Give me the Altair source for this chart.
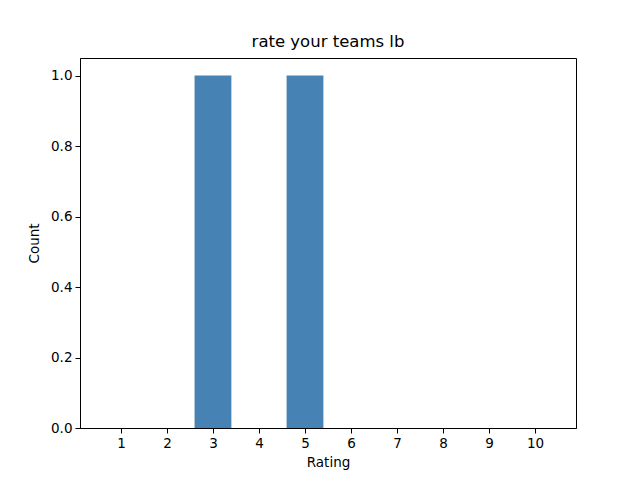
import altair as alt
import pandas as pd

ratings = [1, 2, 3, 4, 5, 6, 7, 8, 9, 10]
counts = [0, 0, 1, 0, 1, 0, 0, 0, 0, 0]
title = "rate your teams lb"

df = pd.DataFrame({"Rating": ratings, "Count": counts})
df["lo"] = df["Rating"] - 0.4
df["hi"] = df["Rating"] + 0.4

font = "DejaVu Sans"

chart = alt.Chart(df).mark_bar(color="#4682b4").encode(
    x=alt.X("lo:Q", scale=alt.Scale(domain=[0.11, 10.89], nice=False, zero=False),
            axis=alt.Axis(title="Rating", values=ratings, format="d", grid=False,
                          labelFlush=False, labelOverlap=False)),
    x2="hi:Q",
    y=alt.Y("Count:Q", scale=alt.Scale(domain=[0, 1.05], nice=False),
            axis=alt.Axis(title="Count", values=[0, 0.2, 0.4, 0.6, 0.8, 1.0], format=".1f",
                          grid=False, labelFlush=False)),
    y2=alt.datum(0),
).properties(
    width=496, height=370,
    title=alt.Title(title, font=font, fontSize=16.5, fontWeight="normal", color="black", offset=8),
    autosize=alt.AutoSizeParams(type="none"),
    padding={"left": 72, "top": 50, "right": 56, "bottom": 44},
).configure_view(stroke="black", strokeWidth=1).configure_axis(
    domainColor="black", tickColor="black", tickSize=5, labelColor="black",
    titleColor="black", labelFont=font, titleFont=font, labelFontSize=13.5,
    titleFontSize=13.5, titleFontWeight="normal", labelPadding=3,
).configure_axisX(titlePadding=6).configure_axisY(titlePadding=9)

chart.save("out.html", embed_options={"renderer": "svg", "actions": False})
